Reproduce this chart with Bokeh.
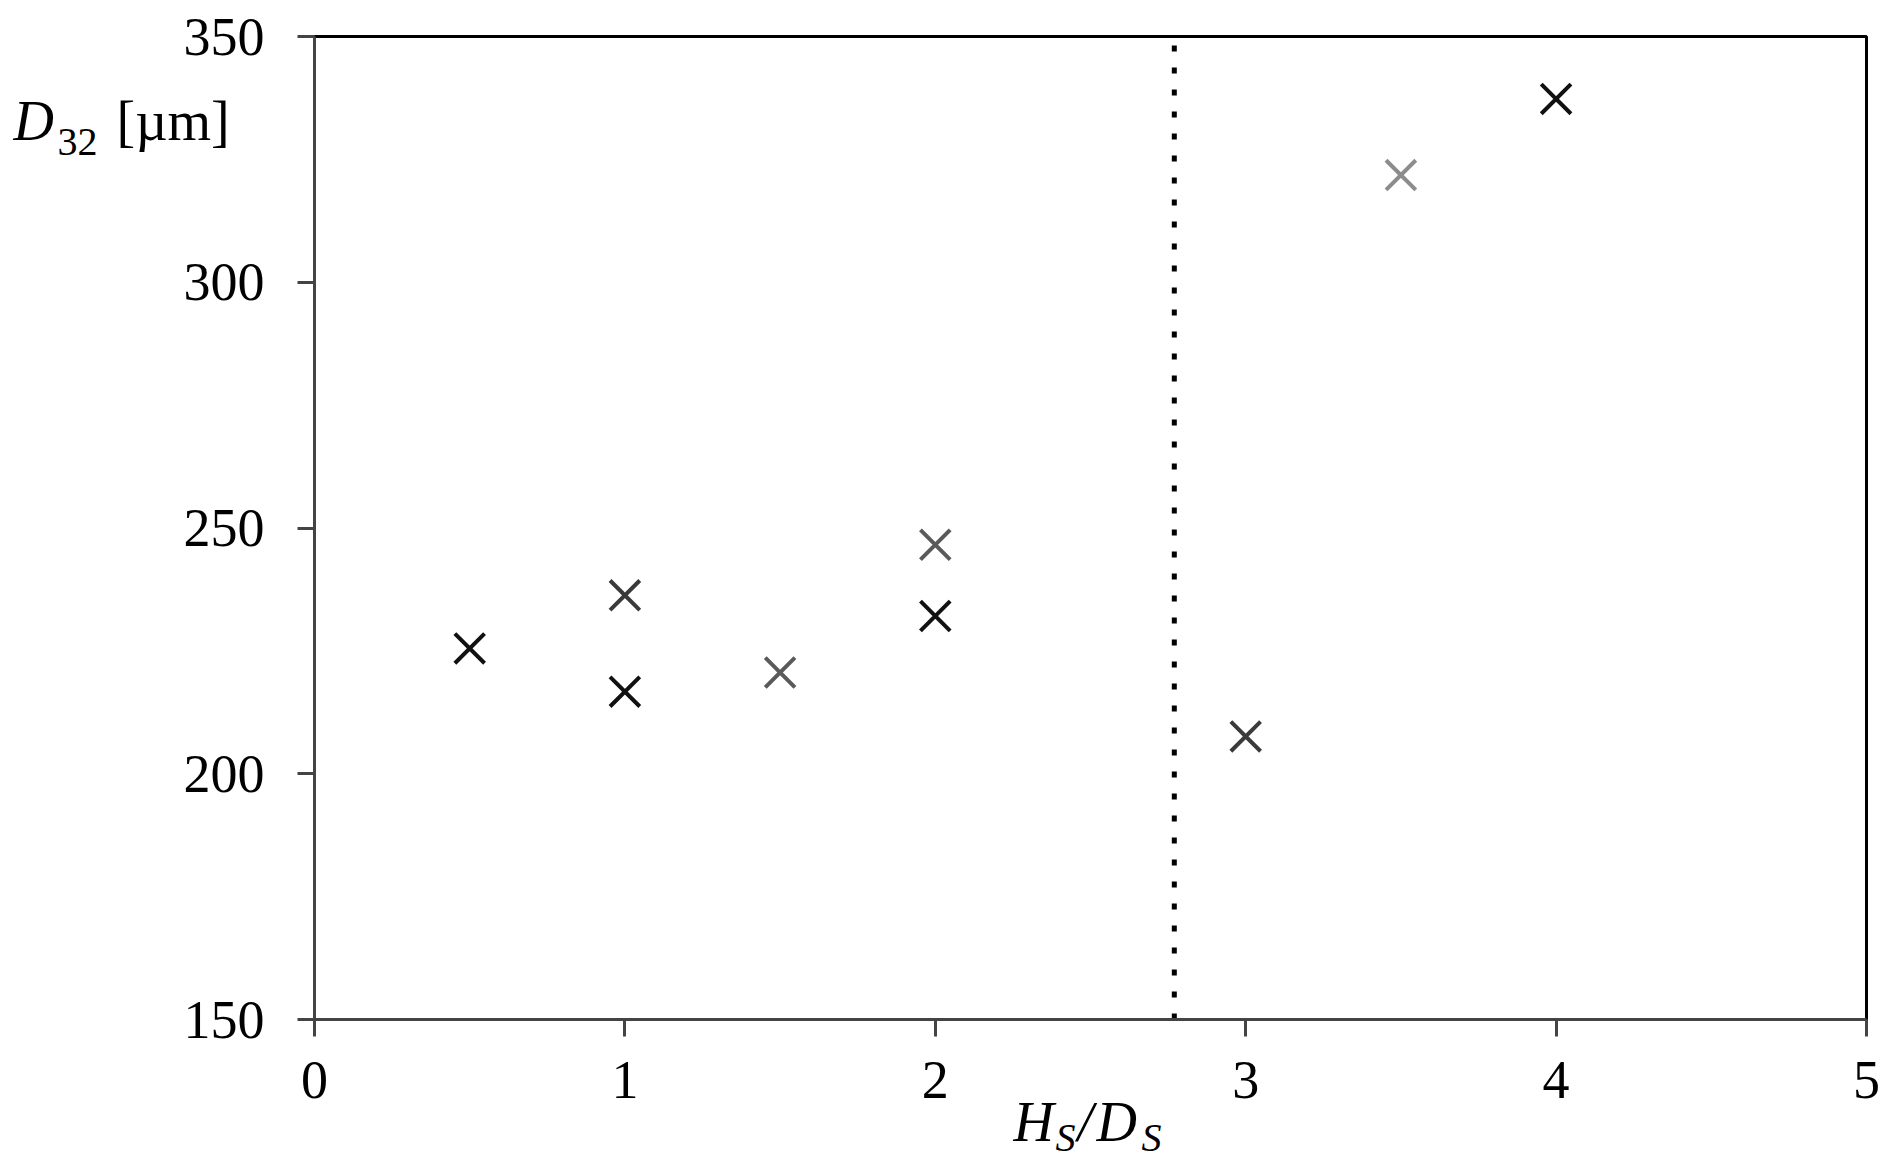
from bokeh.plotting import figure
from bokeh.models import Label, FixedTicker, BoxAnnotation
from bokeh.embed import file_html
from bokeh.resources import INLINE

# ---- data ----
x_black = [0.5, 1.0, 2.0, 4.0]
y_black = [225.5, 216.7, 232.1, 337.3]
x_dark = [1.0, 3.0]
y_dark = [236.3, 207.6]
x_mid = [1.5, 2.0]
y_mid = [220.6, 246.6]
x_light = [3.5]
y_light = [321.8]
boundary_x = 2.77
x_ticks = [0, 1, 2, 3, 4, 5]
y_ticks = [150, 200, 250, 300, 350]

FONT = "Liberation Serif"
X0, X1, Y0, Y1 = 0, 5, 150, 350
W, H = 1880, 1160
# pixel box of the plotting area on the canvas
PL, PR, PT, PB = 314, 1866, 36, 1019
kx = (PR - PL) / (X1 - X0)
ky = (PB - PT) / (Y1 - Y0)
xr = (X0 - PL / kx, X0 + (W - PL) / kx)
yr = (Y1 - (H - PT) / ky, Y1 + PT / ky)

p = figure(width=W, height=H, x_range=xr, y_range=yr,
           output_backend="svg", toolbar_location=None, min_border=0)
p.xgrid.visible = False
p.ygrid.visible = False
p.outline_line_color = None
p.background_fill_color = "white"
p.border_fill_color = "white"

# plot box (top/right black border)
p.add_layout(BoxAnnotation(left=X0, right=X1, bottom=Y0, top=Y1, fill_alpha=0,
                           line_color="black", line_alpha=1.0, line_width=3,
                           level="underlay"))

p.xaxis.fixed_location = Y0
p.yaxis.fixed_location = X0
p.xaxis.bounds = (X0, X1)
p.yaxis.bounds = (Y0, Y1)
for ax, ticks in ((p.xaxis[0], x_ticks), (p.yaxis[0], y_ticks)):
    ax.ticker = FixedTicker(ticks=ticks)
    ax.axis_line_color = "#444444"
    ax.axis_line_width = 3
    ax.major_tick_line_color = "#444444"
    ax.major_tick_line_width = 3
    ax.major_tick_out = 17
    ax.major_tick_in = 0
    ax.minor_tick_line_color = None
    ax.major_label_text_font = FONT
    ax.major_label_text_font_size = "54px"
    ax.major_label_text_color = "black"
p.xaxis.major_label_standoff = 25
p.yaxis.major_label_standoff = 33

p.segment(x0=[boundary_x], y0=[Y0], x1=[boundary_x], y1=[Y1], line_color="black",
          line_width=5, line_dash="6 16")

ms, lw = 42, 4
p.scatter(x_black, y_black, marker="x", size=ms, line_color="#111111", line_width=lw)
p.scatter(x_dark, y_dark, marker="x", size=ms, line_color="#3a3a3a", line_width=lw)
p.scatter(x_mid, y_mid, marker="x", size=ms, line_color="#5a5a5a", line_width=lw)
p.scatter(x_light, y_light, marker="x", size=ms, line_color="#8c8c8c", line_width=lw)


def lab(text, cx, cy, size, style="normal"):
    cy = cy - 0.39 * size  # rendered baseline offset correction
    p.add_layout(Label(x=X0 + (cx - PL) / kx, y=Y1 - (cy - PT) / ky, text=text,
                       text_font=FONT, text_font_size=f"{size}px", text_font_style=style,
                       text_baseline="alphabetic", text_align="left",
                       text_color="black"))


# y-axis title: D32 [µm]
lab("D", 13, 142, 56, "italic")
lab("32", 57, 157, 40)
lab("[µm]", 116, 142, 56)

# x-axis title: HS/DS
lab("H", 1013, 1143, 56, "italic")
lab("S", 1055, 1153, 40, "italic")
lab("/", 1077, 1143, 56, "italic")
lab("D", 1096, 1143, 56, "italic")
lab("S", 1141, 1153, 40, "italic")

open("out.html", "w").write(file_html(p, INLINE))
